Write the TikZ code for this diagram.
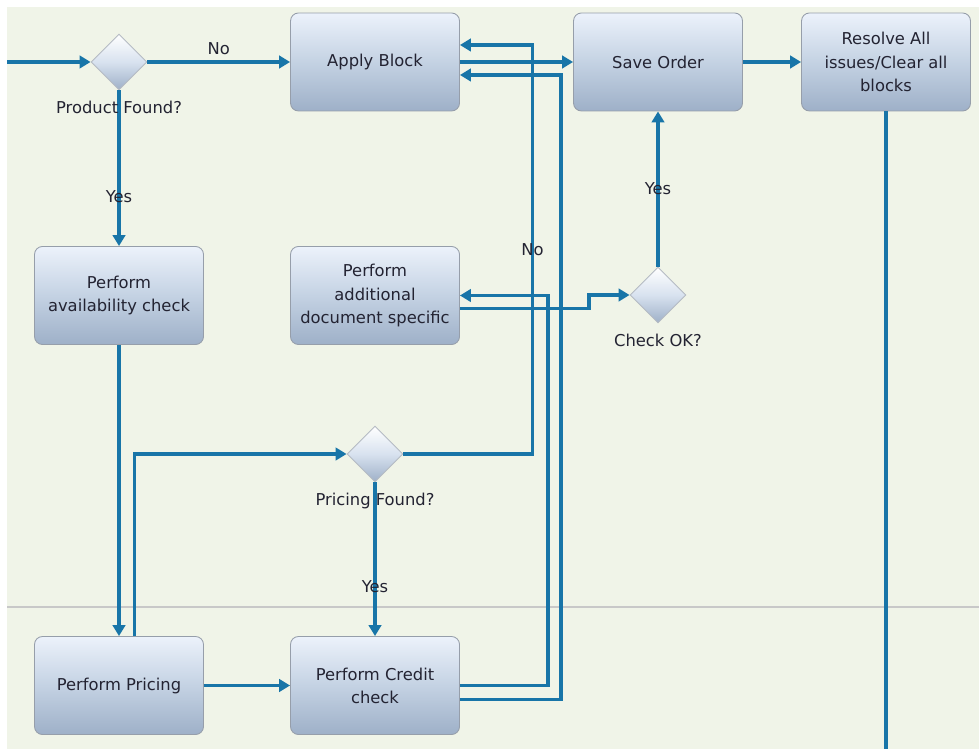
\documentclass[tikz,border=0pt]{standalone}
\usepackage{fontspec}
\newfontfamily\diafont{DejaVu Sans}
\usetikzlibrary{arrows.meta, shapes.geometric, positioning, calc}
\definecolor{flowb} {RGB}{ 24,117,168}
\definecolor{bgrn}  {RGB}{240,244,232}
\definecolor{lanel} {RGB}{200,200,200}
\definecolor{boxtop}{RGB}{236,242,251}
\definecolor{boxmid}{RGB}{196,210,227}
\definecolor{boxbot}{RGB}{158,176,200}
\definecolor{boxdrw}{RGB}{150,158,170}
\definecolor{txtc}  {RGB}{ 35, 35, 50}
\tikzset{
  % Gradient process box
  PB/.style={rectangle,rounded corners=4.5pt,draw=boxdrw,
             top color=boxtop,bottom color=boxbot,middle color=boxmid,
             minimum width=3.38cm,minimum height=1.96cm,align=center,
             font=\diafont\fontsize{9.3}{13.2}\selectfont,text=txtc,
             inner sep=2pt,line width=0.5pt},
  % Gradient decision diamond
  DC/.style={diamond,draw=boxdrw!70,top color=white,bottom color=boxbot,
             middle color=boxtop!50!boxmid,aspect=1,inner sep=0pt,
             minimum size=1.12cm,line width=0.5pt},
  % Plain text label
  LB/.style={font=\diafont\fontsize{9.3}{11}\selectfont,text=txtc,
             inner sep=0pt},
  % Arrows
  Arr/.style={-{Triangle[length=0.22cm,width=0.25cm]},line width=1.8pt,
              color=flowb},
  Ln/.style ={line width=1.8pt,color=flowb},
}
\begin{document}
\begin{tikzpicture}[x=0.02cm,y=-0.02cm]
  \useasboundingbox (0,0) rectangle (979,749);
  % Background and lane divider
  \fill[bgrn] (7,7) rectangle (979,749);
  \draw[lanel,line width=1.4pt] (7,607) -- (979,607);
  % Process boxes
  \node[PB] at (375,62)    (apply)   {Apply Block};
  \node[PB] at (658,62)    (save)    {Save Order};
  \node[PB] at (886,62)    (resolve) {Resolve All\\issues/Clear all\\blocks};
  \node[PB] at (119,295.5) (avail)   {Perform\\availability check};
  \node[PB] at (375,295.5) (adddoc)  {Perform\\additional\\document specific};
  \node[PB] at (119,685.5) (pricing) {Perform Pricing};
  \node[PB] at (375,685.5) (credit)  {Perform Credit\\check};
  % Decisions
  \node[DC] at (119,62)  (pd)  {};
  \node[DC] at (658,295) (okd) {};
  \node[DC] at (375,454) (pfd) {};
  % Free ends
  \coordinate (in)  at (7,62);
  \coordinate (out) at (886,749);
  % Connectors
  \draw[Arr] (in) -- (pd.west);
  \draw[Arr] (pd.east) -- node[LB,above=0.12cm] {No} (apply.west);
  \draw[Arr] (pd.south) -- node[LB,pos=0.68] {Yes} (avail.north);
  \draw[Arr] (apply.east) -- (save.west);
  \draw[Arr] (save.east) -- (resolve.west);
  \draw[Ln]  (resolve.south) -- (out);
  \draw[Arr] (okd.north) -- node[LB] {Yes} (save.south);
  \draw[Arr] ([yshift=-0.26cm]adddoc.east) -- ++(129,0) |- (okd.west);
  \draw[Arr] (avail.south) -- (pricing.north);
  \draw[Arr] ([xshift=0.31cm]pricing.north) |- (pfd.west);
  \draw[Arr] (pfd.south) -- node[LB,pos=0.68] {Yes} (credit.north);
  \draw[Arr] (pfd.east) -- ++(129,0) |- node[LB,pos=0.25] {No}
             ([yshift=0.34cm]apply.east);
  \draw[Arr] (pricing.east) -- (credit.west);
  \draw[Arr] (credit.east) -- ++(88,0) |- (adddoc.east);
  \draw[Arr] ([yshift=-0.28cm]credit.east) -- ++(101,0) |-
             ([yshift=-0.26cm]apply.east);
  % Decision labels
  \node[LB,below=0.2cm of pd]  (pdl)  {Product Found?};
  \node[LB,below=0.2cm of okd] (okdl) {Check OK?};
  \node[LB,below=0.2cm of pfd] (pfdl) {Pricing Found?};
\end{tikzpicture}
\end{document}
